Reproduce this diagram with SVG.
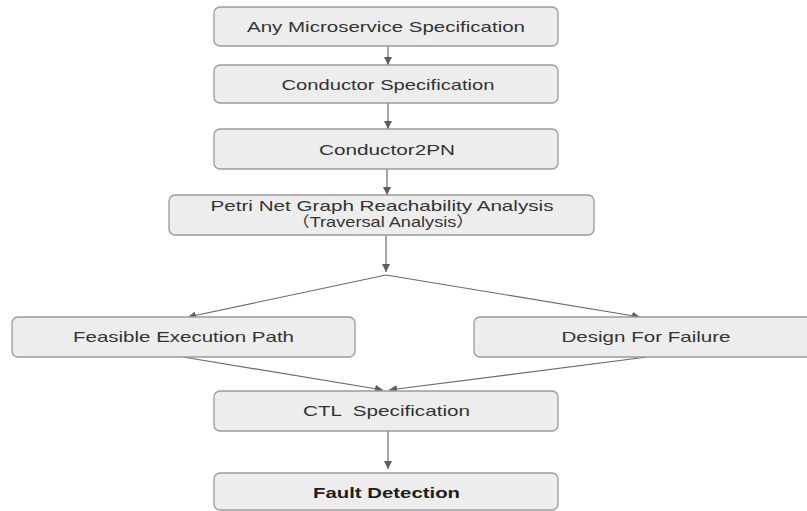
<svg xmlns="http://www.w3.org/2000/svg" width="807" height="511" viewBox="0 0 807 511">
  <defs>
    <marker id="arrow" viewBox="0 0 10 10" refX="10" refY="5" markerWidth="8" markerHeight="8" markerUnits="userSpaceOnUse" orient="auto">
      <path d="M0,0 L10,5 L0,10 z" fill="#5e5e5e"/>
    </marker>
    <style>
      .box { fill: #ededed; stroke: #9a9a9a; stroke-width: 1.3; }
      .label { font-family: "Liberation Sans", Arial, "Noto Sans CJK SC", sans-serif; font-size: 14.5px; fill: #333333; text-anchor: middle; }
      .bold { font-weight: bold; fill: #1e1e1e; }
      .edge { fill: none; stroke: #6a6a6a; stroke-width: 1.2; }
    </style>
  </defs>
  <rect width="807" height="511" fill="#ffffff"/>

  <g id="connectors">
    <line class="edge" x1="388" y1="46" x2="388" y2="65" marker-end="url(#arrow)"/>
    <line class="edge" x1="388" y1="103" x2="388" y2="129" marker-end="url(#arrow)"/>
    <line class="edge" x1="387" y1="169" x2="387" y2="195" marker-end="url(#arrow)"/>
    <line class="edge" x1="386" y1="235" x2="386" y2="272" marker-end="url(#arrow)"/>
    <line class="edge" x1="386" y1="275" x2="188" y2="317" marker-end="url(#arrow)"/>
    <line class="edge" x1="386" y1="275" x2="640" y2="317" marker-end="url(#arrow)"/>
    <line class="edge" x1="183" y1="357" x2="383" y2="390" marker-end="url(#arrow)"/>
    <line class="edge" x1="647" y1="357" x2="389" y2="390" marker-end="url(#arrow)"/>
    <line class="edge" x1="388" y1="431" x2="388" y2="469" marker-end="url(#arrow)"/>
  </g>

  <g id="node-microservice">
    <rect class="box" x="214" y="7" width="344" height="39" rx="6"/>
    <text class="label" x="386" y="32" textLength="278" lengthAdjust="spacingAndGlyphs">Any Microservice Specification</text>
  </g>
  <g id="node-conductor-spec">
    <rect class="box" x="214" y="65" width="344" height="38" rx="6"/>
    <text class="label" x="388" y="90" textLength="213" lengthAdjust="spacingAndGlyphs">Conductor Specification</text>
  </g>
  <g id="node-conductor2pn">
    <rect class="box" x="214" y="129" width="344" height="40" rx="6"/>
    <text class="label" x="387" y="155" textLength="136" lengthAdjust="spacingAndGlyphs">Conductor2PN</text>
  </g>
  <g id="node-petri-net">
    <rect class="box" x="169" y="195" width="425" height="40" rx="6"/>
    <text class="label" x="382" y="211" textLength="343" lengthAdjust="spacingAndGlyphs">Petri Net Graph Reachability Analysis</text>
    <text class="label" x="383" y="227" textLength="183" lengthAdjust="spacingAndGlyphs">（Traversal Analysis）</text>
  </g>
  <g id="node-feasible-path">
    <rect class="box" x="12" y="317" width="343" height="40" rx="6"/>
    <text class="label" x="183.5" y="342" textLength="221" lengthAdjust="spacingAndGlyphs">Feasible Execution Path</text>
  </g>
  <g id="node-design-for-failure">
    <rect class="box" x="474" y="317" width="345" height="40" rx="6"/>
    <text class="label" x="646" y="342" textLength="169" lengthAdjust="spacingAndGlyphs">Design For Failure</text>
  </g>
  <g id="node-ctl-spec">
    <rect class="box" x="214" y="391" width="344" height="40" rx="6"/>
    <text class="label" x="386.5" y="416" textLength="167" lengthAdjust="spacingAndGlyphs" xml:space="preserve">CTL  Specification</text>
  </g>
  <g id="node-fault-detection">
    <rect class="box" x="214" y="473" width="344" height="37" rx="6"/>
    <text class="label bold" x="386.5" y="498" textLength="147" lengthAdjust="spacingAndGlyphs">Fault Detection</text>
  </g>
</svg>
